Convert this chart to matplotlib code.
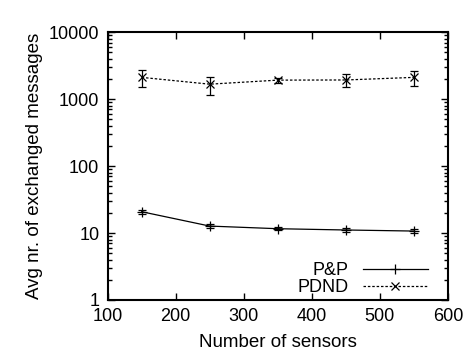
import matplotlib
matplotlib.use("Agg")
import matplotlib.pyplot as plt
from matplotlib.lines import Line2D
from matplotlib.ticker import FixedLocator, LogLocator, NullFormatter

plt.rcParams['font.family'] = ['Liberation Sans', 'DejaVu Sans']

sensors = [150, 250, 350, 450, 550]
pp_avg = [20.8, 12.7, 11.6, 11.1, 10.7]
pp_err = [1.6, 0.8, 0.6, 0.6, 0.6]
pdnd_avg = [2110, 1670, 1920, 1930, 2110]
pdnd_err = [580, 500, 180, 400, 560]

fig = plt.figure(figsize=(4.68, 3.61), dpi=100)
ax = fig.add_axes([0.230, 0.169, 0.727, 0.742])

dashed = (0, (2, 1.5))
ax.errorbar(sensors, pp_avg, yerr=pp_err, color='black', lw=0.9,
            marker='+', ms=7, mew=0.9, capsize=3, elinewidth=0.9)
ax.errorbar(sensors, pdnd_avg, yerr=pdnd_err, color='black', lw=0.9,
            ls=dashed, marker='x', ms=6, mew=0.9, capsize=3,
            elinewidth=0.9)

ax.set_yscale('log')
ax.set_xlim(100, 600)
ax.set_ylim(1, 10000)
ax.xaxis.set_major_locator(FixedLocator([100, 200, 300, 400, 500, 600]))
ax.set_yticks([1, 10, 100, 1000, 10000])
ax.set_yticklabels(['1', '10', '100', '1000', '10000'])
ax.yaxis.set_minor_locator(LogLocator(base=10, subs=range(2, 10)))
ax.yaxis.set_minor_formatter(NullFormatter())

ax.tick_params(which='both', direction='in', top=True, right=True,
               labelsize=13, width=1)
ax.tick_params(which='major', length=5, pad=6)
ax.tick_params(which='minor', length=3)
for s in ax.spines.values():
    s.set_linewidth(1.5)

ax.set_xlabel('Number of sensors', fontsize=13.5, labelpad=6)
ax.set_ylabel('Avg nr. of exchanged messages', fontsize=13.5, labelpad=4)

handles = [
    Line2D([], [], color='black', lw=0.9, marker='+', ms=7, mew=0.9),
    Line2D([], [], color='black', lw=0.9, ls=dashed, marker='x', ms=6, mew=0.9),
]
ax.legend(handles, ['P&P', 'PDND'], loc='lower right',
          bbox_to_anchor=(0.941, 0.015), frameon=False,
          fontsize=13, markerfirst=False, handlelength=3.6,
          borderaxespad=0, borderpad=0, labelspacing=0.0,
          handletextpad=0.8)

fig.savefig('out.png', dpi=100)
